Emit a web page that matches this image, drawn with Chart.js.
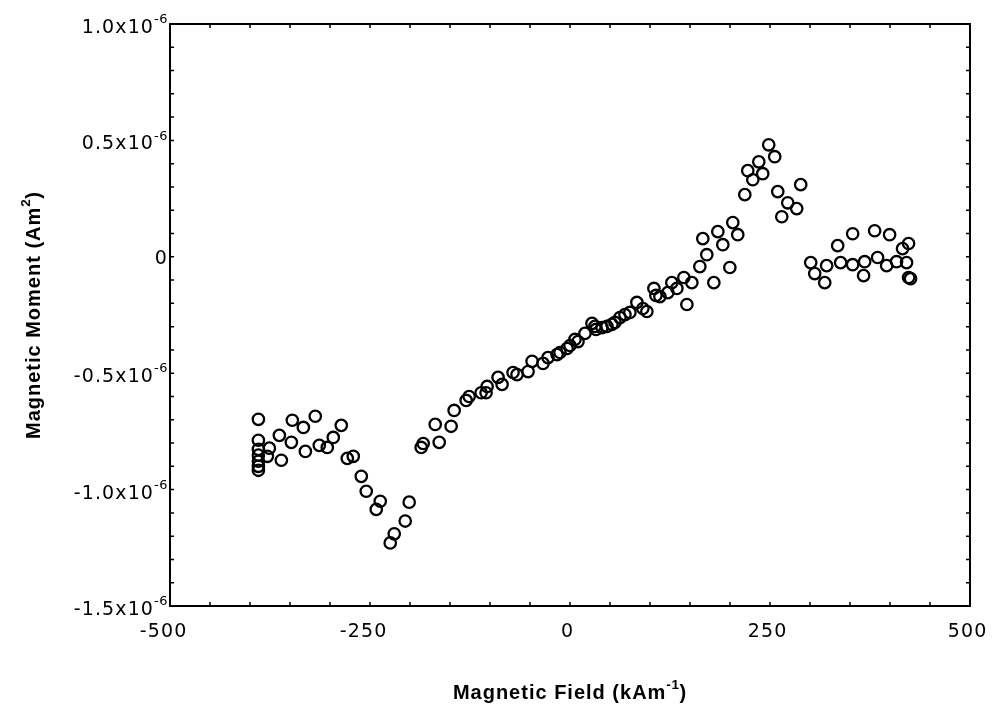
<!DOCTYPE html>
<html>
<head>
<meta charset="utf-8">
<script src="https://cdn.jsdelivr.net/npm/chart.js@4"></script>
<style>
html,body{margin:0;padding:0;background:#fff;}
#wrap{width:993px;height:711px;}
</style>
</head>
<body>
<div id="wrap"><canvas id="c" width="993" height="711"></canvas></div>
<script>
// Magnetic field (kA/m)
const fieldValues = [
  -389.5,-389.5,-389.5,-389.5,-389.5,-389.5,-389.5,-375.8,-378.3,-363.3,-360.8,-347.1,-348.3,-333.3,-330.8,-318.4,-313.4,-303.4,-295.9,-285.9,-278.4,-270.9,
  -260.9,-254.7,-237.2,-242.2,-219.7,-224.7,-206.0,-201.0,-186.0,-183.5,-163.5,-168.5,-148.6,-144.8,-129.8,-126.1,-111.1,-104.9,
  -103.6,-89.9,-84.9,-71.2,-66.2,-52.4,-47.4,-33.7,-27.5,-16.2,-12.5,-3.7,0,6.2,10.0,18.7,27.5,31.2,32.5,40.0,46.2,52.4,56.2,62.4,68.7,74.9,83.6,91.1,96.1,
  104.9,107.4,112.4,122.3,127.3,133.6,142.3,146.1,152.3,162.3,179.8,171.0,184.8,191.0,199.8,203.5,209.7,166.0,
  218.5,222.2,228.5,236.0,240.9,248.4,255.9,259.7,264.7,272.2,283.4,288.4,
  300.9,305.9,318.4,320.8,334.6,338.3,353.3,353.3,368.3,367.0,380.8,384.5,399.5,395.8,408.2,415.7,423.2,420.7,423.2,425.7
];
// Magnetic moment (Am^2)
const momentValues = [
  -0.698e-6,-0.788e-6,-0.827e-6,-0.852e-6,-0.878e-6,-0.900e-6,-0.917e-6,-0.822e-6,-0.857e-6,-0.767e-6,-0.874e-6,-0.702e-6,-0.797e-6,-0.733e-6,-0.836e-6,-0.685e-6,-0.810e-6,-0.819e-6,-0.776e-6,-0.724e-6,-0.866e-6,-0.857e-6,
  -0.943e-6,-1.007e-6,-1.050e-6,-1.085e-6,-1.190e-6,-1.229e-6,-1.135e-6,-1.054e-6,-0.819e-6,-0.802e-6,-0.797e-6,-0.720e-6,-0.728e-6,-0.660e-6,-0.617e-6,-0.600e-6,-0.584e-6,-0.584e-6,
  -0.557e-6,-0.518e-6,-0.548e-6,-0.497e-6,-0.506e-6,-0.493e-6,-0.449e-6,-0.458e-6,-0.433e-6,-0.420e-6,-0.411e-6,-0.394e-6,-0.381e-6,-0.355e-6,-0.364e-6,-0.329e-6,-0.286e-6,-0.299e-6,-0.312e-6,-0.304e-6,-0.299e-6,-0.290e-6,-0.282e-6,-0.261e-6,-0.248e-6,-0.239e-6,-0.196e-6,-0.222e-6,-0.235e-6,
  -0.136e-6,-0.166e-6,-0.171e-6,-0.154e-6,-0.111e-6,-0.136e-6,-0.089e-6,-0.205e-6,-0.111e-6,-0.042e-6,-0.111e-6,0.009e-6,0.108e-6,0.052e-6,-0.046e-6,0.147e-6,0.095e-6,0.078e-6,
  0.267e-6,0.370e-6,0.331e-6,0.408e-6,0.357e-6,0.481e-6,0.430e-6,0.280e-6,0.172e-6,0.232e-6,0.207e-6,0.310e-6,
  -0.025e-6,-0.072e-6,-0.111e-6,-0.038e-6,0.048e-6,-0.025e-6,0.099e-6,-0.034e-6,-0.021e-6,-0.081e-6,0.112e-6,-0.003e-6,0.095e-6,-0.038e-6,-0.021e-6,0.035e-6,0.057e-6,-0.025e-6,-0.089e-6,-0.094e-6
];
const xTickValues = [-500, -250, 0, 250, 500];
const yTickValues = [-1.5e-6, -1.0e-6, -0.5e-6, 0, 0.5e-6, 1.0e-6];
const xMinorStep = 50;
const yMinorStep = 0.1e-6;
const xTitleParts = [{t: 'Magnetic Field (kAm'}, {t: '-1', sup: true}, {t: ')'}];
const yTitleParts = [{t: 'Magnetic Moment (Am'}, {t: '2', sup: true}, {t: ')'}];

const points = fieldValues.map((x, i) => ({x: x, y: momentValues[i]}));
const TITLE_FONT = '"Liberation Sans", Arial, sans-serif';
const TICK_FONT = '"DejaVu Sans", "Liberation Sans", sans-serif';

function yLabelParts(v) {
  const m = Math.round(v / 1e-7) / 10;
  if (Math.abs(m) < 1e-9) return [{t: '0'}];
  return [{t: m.toFixed(1) + 'x10'}, {t: '-6', sup: true}];
}

function setFont(ctx, family, size, weight, spacing) {
  ctx.font = weight + ' ' + size + 'px ' + family;
  ctx.letterSpacing = spacing + 'px';
}

function richWidth(ctx, parts, family, size, weight, spacing) {
  let w = 0;
  parts.forEach(p => {
    const s = p.sup ? size * 0.68 : size;
    setFont(ctx, family, s, weight, p.sup ? spacing * 0.5 : spacing);
    w += ctx.measureText(p.t).width;
  });
  return w;
}

function drawRich(ctx, parts, x, y, align, family, size, weight, spacing) {
  const w = richWidth(ctx, parts, family, size, weight, spacing);
  let cx = align === 'right' ? x - w : align === 'center' ? x - w / 2 : x;
  ctx.textAlign = 'left';
  ctx.textBaseline = 'alphabetic';
  parts.forEach(p => {
    const s = p.sup ? size * 0.68 : size;
    setFont(ctx, family, s, weight, p.sup ? spacing * 0.5 : spacing);
    const yy = p.sup ? y - size * 0.52 : y;
    ctx.fillText(p.t, cx, yy);
    cx += ctx.measureText(p.t).width;
  });
}

const frameAndText = {
  id: 'frameAndText',
  afterDraw(chart) {
    const ctx = chart.ctx, a = chart.chartArea;
    const xs = chart.scales.x, ys = chart.scales.y;
    ctx.save();
    ctx.strokeStyle = '#000';
    ctx.fillStyle = '#000';
    ctx.lineWidth = 2;
    ctx.strokeRect(a.left, a.top, a.right - a.left, a.bottom - a.top);
    ctx.lineWidth = 1.5;
    ctx.beginPath();
    for (let v = xs.min; v <= xs.max + 1e-9; v += xMinorStep) {
      const p = xs.getPixelForValue(v);
      ctx.moveTo(p, a.bottom); ctx.lineTo(p, a.bottom - 4);
      ctx.moveTo(p, a.top); ctx.lineTo(p, a.top + 4);
    }
    const n = Math.round((ys.max - ys.min) / yMinorStep);
    for (let i = 0; i <= n; i++) {
      const p = ys.getPixelForValue(ys.min + i * yMinorStep);
      ctx.moveTo(a.left, p); ctx.lineTo(a.left + 4, p);
      ctx.moveTo(a.right, p); ctx.lineTo(a.right - 4, p);
    }
    ctx.stroke();

    // x tick labels
    const tSize = 19, tSp = 1.1;
    xTickValues.forEach(v => {
      const p = xs.getPixelForValue(v) - 3;
      const s = String(v);
      setFont(ctx, TICK_FONT, tSize, 'normal', tSp);
      const digits = s.replace('-', '');
      const dw = ctx.measureText(digits).width - tSp;
      const mw = s.startsWith('-') ? ctx.measureText('-').width : 0;
      ctx.textAlign = 'left';
      ctx.textBaseline = 'alphabetic';
      ctx.fillText(s, p - dw / 2 - mw, a.bottom + 31);
    });
    // y tick labels
    yTickValues.forEach(v => {
      const p = ys.getPixelForValue(v);
      const parts = yLabelParts(v);
      const off = parts.length === 1 ? 7 : 9;
      drawRich(ctx, parts, a.left - 2, p + off, 'right', TICK_FONT, tSize, 'normal', tSp);
    });
    // axis titles
    drawRich(ctx, xTitleParts, (a.left + a.right) / 2, 699, 'center', TITLE_FONT, 20, 'bold', 1);
    ctx.save();
    ctx.translate(40, (a.top + a.bottom) / 2);
    ctx.rotate(-Math.PI / 2);
    drawRich(ctx, yTitleParts, 0, 0, 'center', TITLE_FONT, 20, 'bold', 1);
    ctx.restore();
    ctx.restore();
  }
};

new Chart(document.getElementById('c'), {
  type: 'scatter',
  data: {
    datasets: [{
      data: points,
      pointStyle: 'circle',
      pointRadius: 5.7,
      pointBorderWidth: 2.3,
      pointBorderColor: '#000',
      pointBackgroundColor: 'rgba(255,255,255,0)',
      showLine: false
    }]
  },
  plugins: [frameAndText],
  options: {
    responsive: false,
    animation: false,
    devicePixelRatio: 1,
    layout: {padding: {left: 0, right: 23, top: 24, bottom: 0}},
    plugins: {legend: {display: false}, tooltip: {enabled: false}},
    scales: {
      x: {
        type: 'linear',
        min: -500, max: 500,
        afterBuildTicks: s => { s.ticks = xTickValues.map(v => ({value: v})); },
        afterFit: s => { s.height = 105; s.paddingLeft = 0; s.paddingRight = 0; },
        grid: {display: false, drawTicks: false},
        border: {display: false},
        ticks: {display: false},
        title: {display: false}
      },
      y: {
        type: 'linear',
        min: -1.5e-6, max: 1.0e-6,
        afterBuildTicks: s => { s.ticks = yTickValues.map(v => ({value: v})); },
        afterFit: s => { s.width = 170; s.paddingTop = 0; s.paddingBottom = 0; },
        grid: {display: false, drawTicks: false},
        border: {display: false},
        ticks: {display: false},
        title: {display: false}
      }
    }
  }
});
</script>
</body>
</html>
